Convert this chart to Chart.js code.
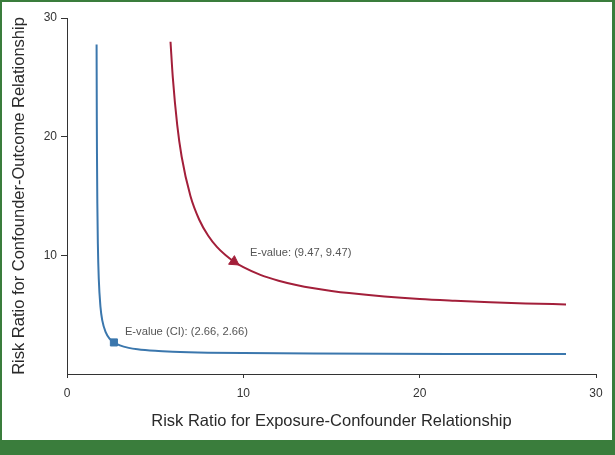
<!DOCTYPE html>
<html>
<head>
<meta charset="utf-8">
<script src="https://cdn.jsdelivr.net/npm/chart.js@4.4.1/dist/chart.umd.min.js"></script>
<style>
  html, body { margin: 0; padding: 0; }
  body { width: 615px; height: 455px; background: #3a7d3c; position: relative; overflow: hidden; }
  #frame { position: absolute; left: 2px; top: 2px; width: 610px; height: 438px; background: #ffffff; }
  canvas { display: block; }
</style>
</head>
<body>
<div id="frame"><canvas id="c" width="610" height="438"></canvas></div>
<script>
// Point-estimate bound curve (E-value 9.47)
const pointX = [5.87, 6, 6.25, 6.5, 7, 7.5, 8, 8.5, 9, 9.47, 10, 11, 12, 13, 14, 15, 16, 18, 20, 22, 24, 26, 28.3];
const pointY = [28.0, 25, 21, 18.33, 15, 13, 11.67, 10.71, 10, 9.47, 9, 8.33, 7.86, 7.5, 7.22, 7, 6.82, 6.54, 6.33, 6.18, 6.05, 5.95, 5.86];
// Confidence-interval bound curve (E-value 2.66)
const ciX = [1.678, 1.69, 1.70, 1.72, 1.75, 1.8, 1.9, 2.0, 2.2, 2.4, 2.66, 3, 3.5, 4, 5, 6, 8, 10, 14, 18, 22, 28.3];
const ciY = [27.76, 21.73, 18.49, 14.38, 10.97, 8.09, 5.63, 4.52, 3.50, 3.01, 2.66, 2.41, 2.20, 2.08, 1.95, 1.88, 1.80, 1.76, 1.72, 1.70, 1.69, 1.68];
// E-value markers
const eValue = [9.47, 9.47];
const eValueCI = [2.66, 2.66];
const labels = ['E-value: (9.47, 9.47)', 'E-value (CI): (2.66, 2.66)'];
const xTicks = [0, 10, 20, 30];
const yTicks = [10, 20, 30];
const xTitle = 'Risk Ratio for Exposure-Confounder Relationship';
const yTitle = 'Risk Ratio for Confounder-Outcome Relationship';

const RED = '#a31f3a';
const BLUE = '#3b77ad';
const toXY = (xs, ys) => xs.map((x, i) => ({ x: x, y: ys[i] }));

const labelPlugin = {
  id: 'evLabels',
  afterDatasetsDraw(chart) {
    const { ctx, scales: { x, y } } = chart;
    ctx.save();
    ctx.font = '11.2px "Liberation Sans", Arial, sans-serif';
    ctx.fillStyle = '#555555';
    ctx.textBaseline = 'middle';
    ctx.textAlign = 'left';
    ctx.fillText(labels[0], x.getPixelForValue(eValue[0]) + 16, y.getPixelForValue(eValue[1]) - 9);
    ctx.fillText(labels[1], x.getPixelForValue(eValueCI[0]) + 11, y.getPixelForValue(eValueCI[1]) - 11);
    ctx.restore();
  }
};

const titleFont = { family: '"Liberation Sans", Arial, sans-serif', size: 16.5 };
const tickFont = { family: '"Liberation Sans", Arial, sans-serif', size: 12 };

new Chart(document.getElementById('c'), {
  type: 'scatter',
  data: {
    datasets: [
      { data: toXY(pointX, pointY), showLine: true, borderColor: RED, borderWidth: 2, pointRadius: 0, cubicInterpolationMode: 'monotone', fill: false },
      { data: toXY(ciX, ciY), showLine: true, borderColor: BLUE, borderWidth: 2, pointRadius: 0, cubicInterpolationMode: 'monotone', fill: false },
      { data: [{ x: eValue[0], y: eValue[1] }], pointStyle: 'triangle', rotation: 124, pointRadius: 6, backgroundColor: RED, borderColor: RED, borderWidth: 1 },
      { data: [{ x: eValueCI[0], y: eValueCI[1] }], pointStyle: 'rect', pointRadius: 5, backgroundColor: BLUE, borderColor: BLUE, borderWidth: 1 }
    ]
  },
  options: {
    responsive: false,
    animation: false,
    devicePixelRatio: 1,
    layout: { padding: { top: 16, right: 16, left: 0, bottom: 0 } },
    plugins: { legend: { display: false }, tooltip: { enabled: false } },
    scales: {
      x: {
        type: 'linear', min: 0, max: 30,
        afterBuildTicks: s => { s.ticks = xTicks.map(v => ({ value: v })); },
        afterFit: s => { s.height = 66; },
        grid: { display: true, drawOnChartArea: false, drawTicks: true, tickLength: 4, color: '#333', lineWidth: 1 },
        border: { display: true, color: '#333', width: 1 },
        ticks: { color: '#333', font: tickFont, padding: 8 },
        title: { display: true, text: xTitle, color: '#2a2a2a', font: titleFont, padding: { top: 0, bottom: 9 } }
      },
      y: {
        type: 'linear', min: 0, max: 30,
        afterBuildTicks: s => { s.ticks = yTicks.map(v => ({ value: v })); },
        afterFit: s => { s.width = 65; },
        grid: { display: true, drawOnChartArea: false, drawTicks: true, tickLength: 6, color: '#333', lineWidth: 1 },
        border: { display: true, color: '#333', width: 1 },
        ticks: { color: '#333', font: tickFont, padding: 4 },
        title: { display: true, text: yTitle, color: '#2a2a2a', font: titleFont, padding: { top: 8, bottom: 0 } }
      }
    }
  },
  plugins: [labelPlugin]
});
</script>
</body>
</html>
